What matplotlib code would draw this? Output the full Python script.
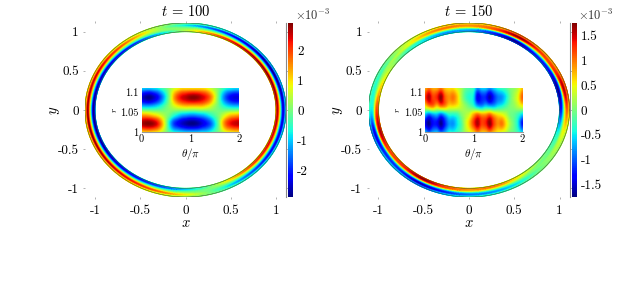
import numpy as np
import matplotlib
import matplotlib.pyplot as plt

matplotlib.use('Agg')

plt.rcParams['mathtext.fontset'] = 'cm'
plt.rcParams['font.family'] = ['cmr10', 'DejaVu Serif']
plt.rcParams['axes.formatter.use_mathtext'] = True

W, H = 644, 294

# theta/pi columns and radius rows of the field, values in units of 1e-3
theta_pi = [0, 1/12, 2/12, 3/12, 4/12, 5/12, 6/12, 7/12, 8/12, 9/12, 10/12, 11/12, 1,
            13/12, 14/12, 15/12, 16/12, 17/12, 18/12, 19/12, 20/12, 21/12, 22/12, 23/12, 2]
radius = [1.0, 1.022, 1.044, 1.066, 1.088, 1.11]

field_100 = [
    [0.9, 1, 1, 0.9, 0.8, 0.5, 0.1, -0.3, -0.6, -0.7, -0.8, -0.9, -0.9, -0.9, -0.9, -0.8, -0.8, -0.6, -0.3, 0, 0.4, 0.7, 0.8, 0.9, 0.9],
    [2.6, 2.8, 2.85, 2.7, 2.3, 1.5, 0.4, -0.9, -1.8, -2.2, -2.5, -2.7, -2.85, -2.85, -2.7, -2.4, -2.1, -1.7, -1, -0.1, 1.1, 1.9, 2.3, 2.5, 2.6],
    [1.3, 1.3, 1.2, 1.0, 0.8, 0.5, 0.2, -0.1, -0.5, -0.8, -1.1, -1.2, -1.3, -1.3, -1.2, -1.1, -0.9, -0.6, -0.3, 0, 0.4, 0.8, 1.1, 1.2, 1.3],
    [-1.1, -1.2, -1.2, -1.1, -0.9, -0.6, -0.2, 0.2, 0.6, 0.9, 1.1, 1.2, 1.2, 1.2, 1.2, 1.2, 1.0, 0.7, 0.3, -0.1, -0.5, -0.8, -1, -1.1, -1.1],
    [-2.4, -2.7, -2.85, -2.6, -2.2, -1.6, -0.8, 0.2, 1.3, 2.0, 2.4, 2.6, 2.8, 2.85, 2.75, 2.5, 2.2, 1.7, 0.9, -0.1, -1.1, -1.8, -2.2, -2.4, -2.4],
    [-0.9, -1, -1, -0.9, -0.8, -0.5, -0.2, 0.2, 0.6, 0.8, 1, 1, 1, 1, 1, 1, 0.9, 0.6, 0.3, 0, -0.4, -0.7, -0.8, -0.9, -0.9],
]

field_150 = [
    [-0.5, -0.9, -0.7, -0.6, -0.9, -0.7, -0.4, -0.4, -0.3, -0.1, 0.2, 0.4, 0.6, 0.9, 0.7, 0.7, 0.9, 0.7, 0.5, 0.4, 0.3, 0, -0.1, -0.3, -0.5],
    [-1.3, -1.7, -1.3, -1.3, -1.7, -1.2, -0.8, -0.8, -0.5, -0.2, 0.3, 0.7, 1.2, 1.6, 1.2, 1.3, 1.7, 1.2, 0.9, 1, 0.6, 0.2, -0.1, -0.5, -1.3],
    [-0.6, -1.0, -0.8, -0.7, -1.0, -0.7, -0.4, -0.4, -0.3, 0, 0.2, 0.4, 0.8, 1.1, 0.9, 0.9, 1.1, 0.8, 0.6, 0.5, 0.3, 0, -0.1, -0.3, -0.6],
    [0.5, 0.9, 1, 0.7, 1, 0.9, 0.6, 0.6, 0.5, 0.3, 0.1, -0.1, -0.3, -0.7, -0.8, -0.6, -0.7, -0.7, -0.5, -0.4, -0.2, 0, 0.1, 0.3, 0.5],
    [1.1, 1.6, 1.2, 1.3, 1.7, 1.1, 0.9, 1.0, 0.7, 0.2, -0.2, -0.4, -0.5, -1.4, -1.2, -1.2, -1.6, -1.2, -0.9, -0.8, -0.5, -0.1, 0.2, 0.5, 1.1],
    [0.7, 1, 0.8, 0.8, 1, 0.7, 0.6, 0.6, 0.4, 0.2, -0.1, -0.2, -0.3, -0.8, -0.6, -0.6, -0.8, -0.6, -0.4, -0.3, -0.2, 0, 0.1, 0.3, 0.7],
]

xy_ticks = [-1, -0.5, 0, 0.5, 1]
xy_labels = ['-1', '-0.5', '0', '0.5', '1']


def px_axes(fig, x0, y0, x1, y1):
    return fig.add_axes([x0 / W, 1 - y1 / H, (x1 - x0) / W, (y1 - y0) / H])


def catmull(values, n, axis):
    # smooth display resampling of the read grid, n steps per cell
    v = np.moveaxis(values, axis, 0)
    m = v.shape[0]
    u = np.linspace(0, m - 1, (m - 1) * n + 1)
    i = np.minimum(u.astype(int), m - 2)
    f = (u - i).reshape((-1,) + (1,) * (v.ndim - 1))
    p0, p1 = v[np.maximum(i - 1, 0)], v[i]
    p2, p3 = v[i + 1], v[np.minimum(i + 2, m - 1)]
    out = 0.5 * (2 * p1 + (p2 - p0) * f + (2 * p0 - 5 * p1 + 4 * p2 - p3) * f ** 2
                 + (3 * p1 - p0 - 3 * p2 + p3) * f ** 3)
    return np.moveaxis(out, 0, axis)


def draw_panel(fig, field, title, vmax, cticks, clabels, left):
    n = 10
    values = catmull(catmull(np.array(field, dtype=float), n, 0), n, 1)
    th = catmull(np.array(theta_pi), n, 0)
    r = catmull(np.array(radius), n, 0)
    T, R = np.meshgrid(th * np.pi, r)

    ax = px_axes(fig, left, 23, left + 201, 197)
    mesh = ax.pcolormesh(R * np.cos(T), R * np.sin(T), values, shading='gouraud',
                         cmap='jet', vmin=-vmax, vmax=vmax)
    ax.plot(r[0] * np.cos(T[0]), r[0] * np.sin(T[0]), color='#222222', lw=0.3)
    ax.plot(r[-1] * np.cos(T[0]), r[-1] * np.sin(T[0]), color='#222222', lw=0.3)
    ax.set_xlim(-1.11, 1.11)
    ax.set_ylim(-1.11, 1.11)
    ax.set_xticks(xy_ticks, xy_labels)
    ax.set_yticks(xy_ticks, xy_labels)
    ax.tick_params(labelsize=9.5, length=1.5, width=0.4, color='#777777', top=True, right=True)
    ax.tick_params(axis='x', pad=4)
    ax.tick_params(axis='y', pad=3)
    for name in ['left', 'top', 'bottom']:
        ax.spines[name].set_visible(False)
    ax.spines['right'].set_color('#888888')
    ax.spines['right'].set_linewidth(0.8)
    ax.set_title(title, fontsize=10.5, pad=5)
    ax.set_xlabel('$x$', fontsize=10.5, labelpad=0)
    ax.set_ylabel('$y$', fontsize=10.5, labelpad=-3)

    cax = px_axes(fig, left + 203, 23, left + 208, 197)
    cb = fig.colorbar(mesh, cax=cax)
    cb.set_ticks(cticks, labels=clabels)
    cb.ax.tick_params(labelsize=9.5, length=0, pad=3)
    cb.outline.set_visible(False)
    fig.text((left + 210) / W, 1 - 15 / H, r'$\times 10^{-3}$', fontsize=9, va='center', color='#333333')

    inset = px_axes(fig, left + 56.5, 88, left + 154, 132)
    inset.pcolormesh(th, r, values, shading='gouraud', cmap='jet', vmin=-vmax, vmax=vmax)
    inset.set_xlim(0, 2)
    inset.set_ylim(1, 1.11)
    inset.set_xticks([0, 1, 2], ['0', '1', '2'])
    inset.set_yticks([1, 1.05, 1.1], ['1', '1.05', '1.1'])
    inset.tick_params(labelsize=7.5, length=0, pad=2)
    for s in inset.spines.values():
        s.set_visible(False)
    inset.spines['bottom'].set_visible(True)
    inset.spines['bottom'].set_color('#999999')
    inset.set_xlabel(r'$\theta/\pi$', fontsize=8, labelpad=1)
    inset.set_ylabel('$r$', fontsize=6.5, labelpad=1)


fig = plt.figure(figsize=(W / 100, H / 100), dpi=100)
draw_panel(fig, field_100, '$t$ = 100', 2.9, [-2, -1, 0, 1, 2], ['-2', '-1', '0', '1', '2'], 85)
draw_panel(fig, field_150, '$t$ = 150', 1.75, [-1.5, -1, -0.5, 0, 0.5, 1, 1.5],
           ['-1.5', '-1', '-0.5', '0', '0.5', '1', '1.5'], 368.5)
fig.savefig('out.png', dpi=100)
